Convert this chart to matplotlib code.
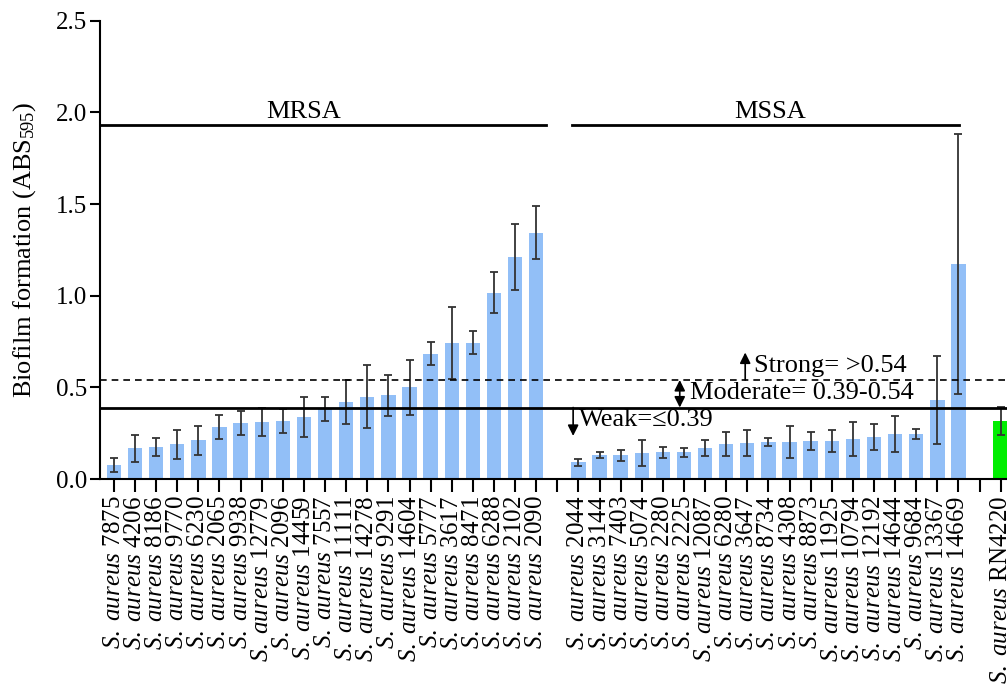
import matplotlib.pyplot as plt
import numpy as np

plt.rcParams['font.family'] = ['Liberation Serif', 'DejaVu Serif']
plt.rcParams['mathtext.fontset'] = 'custom'
plt.rcParams['mathtext.rm'] = 'Liberation Serif'
plt.rcParams['mathtext.it'] = 'Liberation Serif:italic'

# MRSA isolates
mrsa_ids = ['7875', '4206', '8186', '9770', '6230', '2065', '9938', '12779', '2096', '14459',
            '7557', '11111', '14278', '9291', '14604', '5777', '3617', '8471', '6288', '2102', '2090']
mrsa_mean = [0.076, 0.167, 0.176, 0.189, 0.212, 0.283, 0.305, 0.310, 0.316, 0.338,
             0.381, 0.418, 0.450, 0.456, 0.501, 0.684, 0.741, 0.744, 1.017, 1.213, 1.344]
mrsa_err = [0.036, 0.073, 0.048, 0.079, 0.079, 0.065, 0.067, 0.075, 0.065, 0.110,
            0.065, 0.120, 0.170, 0.110, 0.150, 0.061, 0.196, 0.062, 0.110, 0.180, 0.146]

# MSSA isolates
mssa_ids = ['2044', '3144', '7403', '5074', '2280', '2225', '12087', '6280', '3647', '8734',
            '4308', '8873', '11925', '10794', '12192', '14644', '9684', '13367', '14669']
mssa_mean = [0.091, 0.129, 0.129, 0.141, 0.145, 0.145, 0.169, 0.191, 0.196, 0.200,
             0.202, 0.207, 0.207, 0.218, 0.229, 0.245, 0.247, 0.429, 1.173]
mssa_err = [0.020, 0.017, 0.030, 0.072, 0.030, 0.025, 0.045, 0.066, 0.073, 0.022,
            0.088, 0.047, 0.062, 0.093, 0.072, 0.099, 0.028, 0.240, 0.710]

# reference strain
ref_id = 'RN4220'
ref_mean = 0.316
ref_err = 0.076

weak_cut = 0.39
strong_cut = 0.54

bar_color = '#92BFF7'
ref_color = '#00EE00'
err_color = '#333333'

fig = plt.figure(figsize=(10.07, 6.84), dpi=100)
ax = fig.add_axes([0.0993, 0.2997, 0.9007, 0.670])

# positions: MRSA, gap, MSSA, gap, reference
x_mrsa = np.arange(len(mrsa_ids))
x_mssa = np.arange(len(mssa_ids)) + len(mrsa_ids) + 1
x_ref = x_mssa[-1] + 2

bar_kw = dict(width=0.68, capsize=3, error_kw=dict(ecolor=err_color, elinewidth=1.3, capthick=1.3))
ax.bar(x_mrsa, mrsa_mean, yerr=mrsa_err, color=bar_color, **bar_kw)
ax.bar(x_mssa, mssa_mean, yerr=mssa_err, color=bar_color, **bar_kw)
ax.bar([x_ref], [ref_mean], yerr=[ref_err], color=ref_color, **bar_kw)

# ticks: one per slot, blank for gaps
n_slots = x_ref + 1
labels = [''] * n_slots
for i, s in zip(x_mrsa, mrsa_ids):
    labels[i] = r'$\mathit{S.\ aureus}$ ' + s
for i, s in zip(x_mssa, mssa_ids):
    labels[i] = r'$\mathit{S.\ aureus}$ ' + s
labels[x_ref] = r'$\mathit{S.\ aureus}$ ' + ref_id
ax.set_xticks(np.arange(n_slots))
ax.set_xticklabels(labels, rotation=90, fontsize=18)

ax.set_xlim(-0.66, 42.3)
ax.set_ylim(0, 2.5)
ax.set_yticks([0, 0.5, 1.0, 1.5, 2.0, 2.5])
ax.set_yticklabels(['0.0', '0.5', '1.0', '1.5', '2.0', '2.5'], fontsize=18)
ax.set_ylabel(r'Biofilm formation (ABS$_{595}$)', fontsize=19, labelpad=13)

for side in ['top', 'right']:
    ax.spines[side].set_visible(False)
for side in ['left', 'bottom']:
    ax.spines[side].set_linewidth(1.5)
ax.tick_params(axis='y', length=7, width=1.5, pad=2)
ax.tick_params(axis='x', length=9, width=1.5, pad=3)

# cut-off lines
ax.axhline(weak_cut, color='black', lw=2)
ax.axhline(strong_cut, color='black', lw=1.2, ls=(0, (4, 3)))

# group brackets
ax.plot([-0.66, 20.47], [1.93, 1.93], color='black', lw=2, clip_on=False)
ax.plot([21.7, 40.05], [1.93, 1.93], color='black', lw=2)
ax.text(8.96, 1.94, 'MRSA', ha='center', va='bottom', fontsize=19)
ax.text(31.1, 1.94, 'MSSA', ha='center', va='bottom', fontsize=19)

# category annotations
arw = dict(arrowstyle='-|>', color='black', lw=1.2, mutation_scale=16, shrinkA=0, shrinkB=0)
ax.annotate('', xy=(29.9, 0.69), xytext=(29.9, strong_cut), arrowprops=arw)
ax.text(30.3, 0.615, 'Strong= >0.54', ha='left', va='center', fontsize=19)
ax.annotate('', xy=(26.8, strong_cut), xytext=(26.8, weak_cut),
            arrowprops=dict(arw, arrowstyle='<|-|>'))
ax.text(27.3, 0.468, 'Moderate= 0.39-0.54', ha='left', va='center', fontsize=19)
ax.annotate('', xy=(21.75, 0.235), xytext=(21.75, weak_cut), arrowprops=arw)
ax.text(22.05, 0.322, 'Weak=\u22640.39', ha='left', va='center', fontsize=19)

fig.savefig('out.png', dpi=100)
